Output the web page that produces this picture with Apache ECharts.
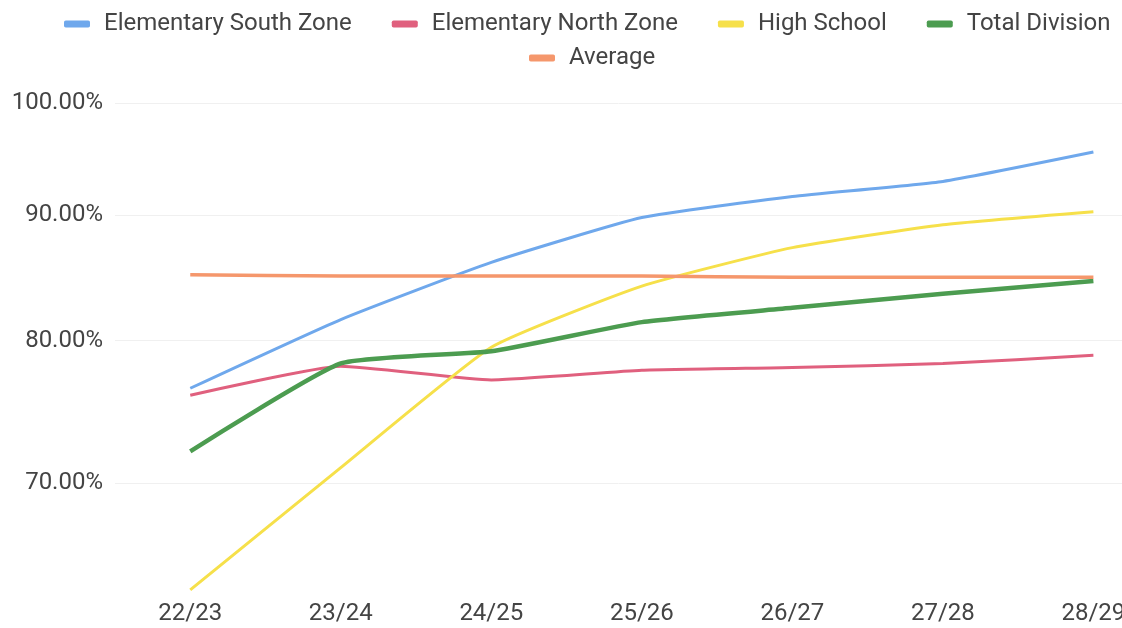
<!doctype html>
<html>
<head>
    <meta charset="utf-8">
    <title>Enrolment share by zone</title>
    <style>
        html, body { margin: 0; padding: 0; background: #fff; }
        #chart { width: 1122px; height: 628px; }
    </style>
</head>
<body>
<div id="chart"></div>
<script src="https://cdn.jsdelivr.net/npm/echarts@6/dist/echarts.min.js"></script>
<script>
    // school years on the x axis
    var years = ['22/23', '23/24', '24/25', '25/26', '26/27', '27/28', '28/29'];
    // y ticks (percent)
    var yTicks = [70, 80, 90, 100];

    // series values, percent
    var southZone = [76.5, 81.6, 86.1, 89.8, 91.6, 92.9, 95.5];
    var northZone = [76.0, 78.1, 77.1, 77.8, 78.0, 78.3, 78.9];
    var highSchool = [63.3, 71.0, 79.5, 84.2, 87.3, 89.2, 90.3];
    var totalDivision = [72.1, 78.3, 79.2, 81.4, 82.5, 83.6, 84.6];
    var average = [85.1, 85.0, 85.0, 85.0, 84.9, 84.9, 84.9];

    var font = 'Roboto';
    var textColor = '#444';
    var yearIdx = years.map(function (y, i) { return i; });

    // pair each value with its year index
    function pts(vals) {
        return vals.map(function (v, i) { return [i, v]; });
    }

    function line(name, data, color, width) {
        return {
            name: name,
            type: 'line',
            data: pts(data),
            smooth: 0.15,
            showSymbol: false,
            lineStyle: {color: color, width: width},
            itemStyle: {color: color}
        };
    }

    var legendBase = {
        icon: 'roundRect',
        itemWidth: 26,
        itemHeight: 7,
        itemGap: 40,
        textStyle: {fontFamily: font, fontSize: 24, color: textColor, padding: [0, 0, 0, 9]}
    };

    var myChart = echarts.init(document.getElementById('chart'));
    var option = {
        animation: false,
        legend: [
            Object.assign({}, legendBase, {
                left: 59, top: 7, right: 0,
                data: ['Elementary South Zone', 'Elementary North Zone', 'High School', 'Total Division']
            }),
            Object.assign({}, legendBase, {
                left: 524, top: 41,
                data: ['Average']
            })
        ],
        grid: {left: 115, top: 103, right: 0, height: 492, outerBoundsMode: 'none'},
        // the plot runs past the right edge, so the last year is cut
        xAxis: {
            type: 'value',
            min: -0.5,
            max: 6.19,
            splitLine: {show: false},
            axisLine: {show: false},
            axisTick: {show: false, customValues: yearIdx},
            axisLabel: {
                customValues: yearIdx,
                margin: 7, fontFamily: font, fontSize: 24, color: textColor,
                formatter: function (v) { return years[v]; }
            }
        },
        yAxis: {
            type: 'log',
            logBase: 10,
            min: 63,
            max: 100,
            axisLine: {show: false},
            axisTick: {show: false, customValues: yTicks},
            axisLabel: {
                customValues: yTicks,
                margin: 12,
                fontFamily: font, fontSize: 24, color: textColor,
                formatter: function (v) { return v.toFixed(2) + '%'; }
            },
            splitLine: {show: true, lineStyle: {color: '#f0f0f0', width: 1}}
        },
        series: [
            line('Elementary South Zone', southZone, '#6fa8ec', 3),
            line('Elementary North Zone', northZone, '#e0607e', 3),
            line('High School', highSchool, '#f6e04a', 3),
            line('Total Division', totalDivision, '#4c9c50', 4.5),
            line('Average', average, '#f5976c', 3.5)
        ]
    };
    myChart.setOption(option);
</script>
</body>
</html>
